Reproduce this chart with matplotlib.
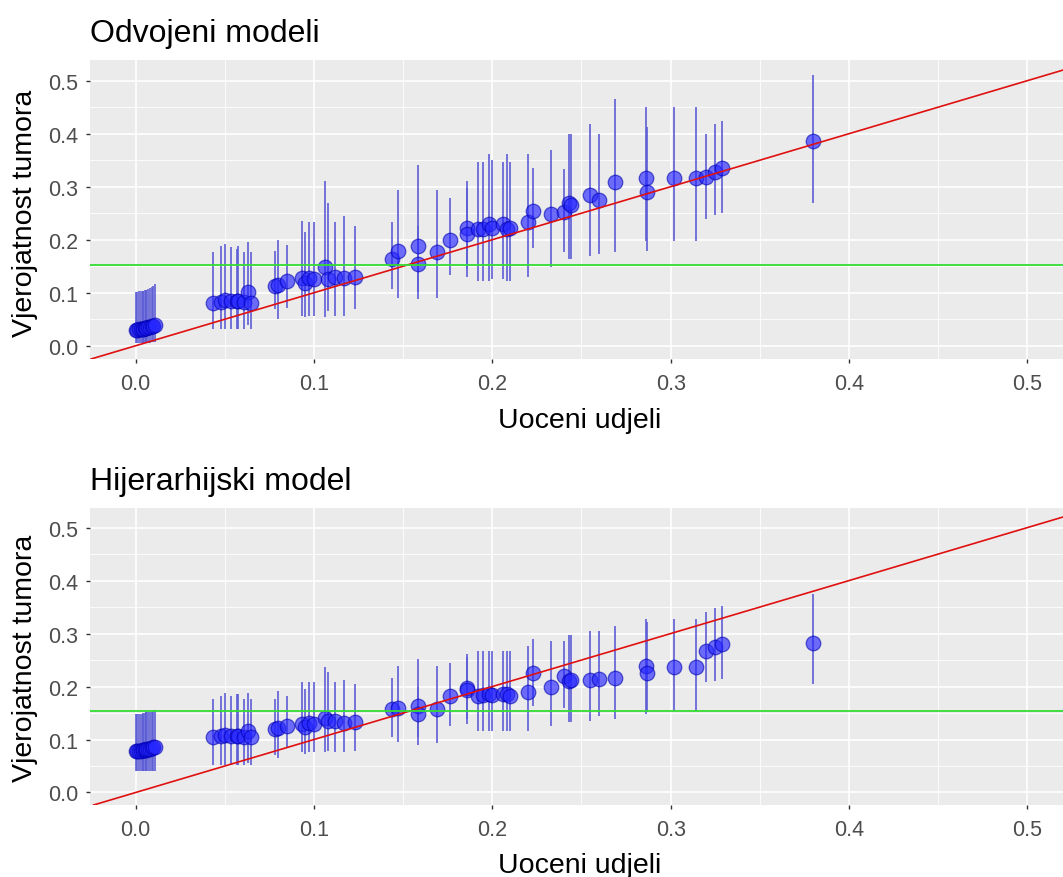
import matplotlib
matplotlib.use("Agg")
import matplotlib.pyplot as plt
import numpy as np

plt.rcParams['font.family'] = ['Liberation Sans', 'DejaVu Sans']

x_obs = [0.000, 0.001, 0.002, 0.003, 0.004, 0.004, 0.005, 0.006, 0.006, 0.007, 0.008, 0.009, 0.010, 0.011,
         0.0435, 0.0478, 0.050, 0.0532, 0.0566, 0.0575, 0.0607, 0.0631, 0.0644,
         0.078, 0.080, 0.085, 0.093, 0.095, 0.097, 0.100, 0.106, 0.108, 0.112, 0.117, 0.123,
         0.144, 0.147,
         0.1585, 0.1585, 0.169, 0.176, 0.186, 0.186, 0.192, 0.195, 0.198, 0.200, 0.206, 0.208, 0.210,
         0.220, 0.223, 0.233, 0.240, 0.243, 0.244, 0.255, 0.260, 0.269, 0.286, 0.287,
         0.302, 0.314, 0.320, 0.325, 0.329, 0.380]

# separate models: posterior mean and interval
sep_mean = [0.030, 0.030, 0.031, 0.031, 0.032, 0.032, 0.033, 0.033, 0.034, 0.035, 0.036, 0.037, 0.038, 0.040,
            0.080, 0.083, 0.086, 0.085, 0.084, 0.085, 0.082, 0.102, 0.080,
            0.113, 0.115, 0.122, 0.127, 0.118, 0.128, 0.125, 0.148, 0.125, 0.130, 0.128, 0.130,
            0.164, 0.178,
            0.189, 0.154, 0.177, 0.199, 0.222, 0.210, 0.220, 0.220, 0.230, 0.222, 0.230, 0.220, 0.223,
            0.233, 0.255, 0.248, 0.252, 0.270, 0.265, 0.284, 0.275, 0.308, 0.316, 0.290,
            0.316, 0.316, 0.318, 0.327, 0.336, 0.387]
sep_lo = [0.005, 0.005, 0.005, 0.005, 0.005, 0.005, 0.005, 0.006, 0.006, 0.006, 0.006, 0.007, 0.007, 0.008,
          0.031, 0.031, 0.031, 0.031, 0.031, 0.031, 0.031, 0.040, 0.031,
          0.069, 0.050, 0.072, 0.057, 0.054, 0.057, 0.057, 0.054, 0.066, 0.057, 0.057, 0.069,
          0.107, 0.091,
          0.088, 0.101, 0.090, 0.133, 0.145, 0.130, 0.122, 0.122, 0.122, 0.125, 0.126, 0.122, 0.122,
          0.129, 0.185, 0.148, 0.176, 0.164, 0.164, 0.170, 0.173, 0.176, 0.198, 0.179,
          0.198, 0.198, 0.239, 0.247, 0.250, 0.269]
sep_hi = [0.102, 0.102, 0.103, 0.103, 0.104, 0.104, 0.105, 0.105, 0.106, 0.107, 0.108, 0.110, 0.112, 0.116,
          0.176, 0.189, 0.192, 0.186, 0.183, 0.189, 0.176, 0.195, 0.176,
          0.179, 0.200, 0.190, 0.236, 0.214, 0.233, 0.233, 0.311, 0.270, 0.233, 0.245, 0.226,
          0.233, 0.293,
          0.340, 0.226, 0.293, 0.278, 0.298, 0.310, 0.347, 0.347, 0.362, 0.350, 0.347, 0.362, 0.347,
          0.362, 0.336, 0.370, 0.333, 0.399, 0.399, 0.418, 0.399, 0.465, 0.450, 0.412,
          0.450, 0.450, 0.399, 0.418, 0.424, 0.510]

# hierarchical model: posterior mean and interval
hier_mean = [0.078, 0.078, 0.079, 0.079, 0.080, 0.080, 0.081, 0.081, 0.082, 0.083, 0.083, 0.084, 0.085, 0.086,
             0.104, 0.106, 0.108, 0.107, 0.106, 0.107, 0.105, 0.116, 0.104,
             0.120, 0.122, 0.125, 0.130, 0.123, 0.132, 0.130, 0.141, 0.135, 0.135, 0.132, 0.133,
             0.158, 0.160,
             0.164, 0.148, 0.158, 0.183, 0.197, 0.193, 0.183, 0.184, 0.186, 0.184, 0.186, 0.186, 0.183,
             0.189, 0.225, 0.199, 0.219, 0.211, 0.213, 0.212, 0.215, 0.217, 0.239, 0.225,
             0.236, 0.236, 0.268, 0.274, 0.280, 0.283]
hier_lo = [0.040, 0.040, 0.040, 0.040, 0.040, 0.040, 0.040, 0.040, 0.040, 0.040, 0.040, 0.040, 0.040, 0.040,
           0.052, 0.052, 0.052, 0.052, 0.052, 0.052, 0.052, 0.055, 0.052,
           0.070, 0.066, 0.085, 0.076, 0.073, 0.076, 0.076, 0.076, 0.079, 0.076, 0.076, 0.079,
           0.104, 0.095,
           0.090, 0.105, 0.094, 0.126, 0.138, 0.130, 0.117, 0.117, 0.117, 0.117, 0.117, 0.117, 0.117,
           0.117, 0.164, 0.126, 0.160, 0.133, 0.133, 0.135, 0.145, 0.138, 0.148, 0.151,
           0.154, 0.154, 0.208, 0.211, 0.214, 0.205]
hier_hi = [0.148, 0.148, 0.148, 0.149, 0.149, 0.150, 0.150, 0.151, 0.151, 0.152, 0.152, 0.153, 0.154, 0.155,
           0.176, 0.183, 0.187, 0.183, 0.185, 0.185, 0.176, 0.187, 0.176,
           0.176, 0.192, 0.182, 0.209, 0.195, 0.209, 0.209, 0.236, 0.228, 0.209, 0.213, 0.205,
           0.217, 0.239,
           0.252, 0.200, 0.239, 0.245, 0.261, 0.255, 0.268, 0.268, 0.268, 0.268, 0.268, 0.268, 0.268,
           0.277, 0.290, 0.286, 0.286, 0.297, 0.297, 0.305, 0.305, 0.315, 0.327, 0.321,
           0.327, 0.327, 0.340, 0.349, 0.352, 0.375]

overall_rate = 0.153
x_ticks = [0.0, 0.1, 0.2, 0.3, 0.4, 0.5]
y_ticks = [0.0, 0.1, 0.2, 0.3, 0.4, 0.5]
tick_labels = ['0.0', '0.1', '0.2', '0.3', '0.4', '0.5']

W, H = 1063, 878
fig = plt.figure(figsize=(W / 100, H / 100), dpi=100)


def px_box(left, top, right, bottom):
    return [left / W, 1 - bottom / H, (right - left) / W, (bottom - top) / H]


def draw_panel(ax, mean, lo, hi, ylim):
    ax.set_facecolor('#EBEBEB')
    for s in ax.spines.values():
        s.set_visible(False)
    ax.set_xlim(-0.0256, 0.520)
    ax.set_ylim(*ylim)
    ax.set_xticks(x_ticks)
    ax.set_xticklabels(tick_labels)
    ax.set_yticks(y_ticks)
    ax.set_yticklabels(tick_labels)
    ax.set_xticks(np.arange(0.05, 0.55, 0.1), minor=True)
    ax.set_yticks(np.arange(0.05, 0.55, 0.1), minor=True)
    ax.grid(which='major', color='white', lw=1.2)
    ax.grid(which='minor', color='white', lw=0.6)
    ax.set_axisbelow(True)
    ax.tick_params(which='major', length=3.2, width=1, color='#333333',
                   labelsize=15.5, labelcolor='#4D4D4D', pad=5)
    ax.tick_params(axis='x', which='major', pad=7)
    ax.tick_params(which='minor', length=0)

    # intervals, then points
    ax.vlines(x_obs, lo, hi, color='#5c5cd6', alpha=0.85, lw=1.4, zorder=2)
    ax.scatter(x_obs, mean, s=110, facecolor=(0.15, 0.15, 1, 0.65),
               edgecolor=(0, 0, 0.7, 0.6), lw=0.9, zorder=3)

    # reference lines
    ax.axline((0, 0), slope=1, color='#e01010', lw=1.2, zorder=4)
    ax.axhline(overall_rate, color='#33dd33', lw=1.3, zorder=4)


ax1 = fig.add_axes(px_box(90, 61, 1063, 360))
draw_panel(ax1, sep_mean, sep_lo, sep_hi, (-0.025, 0.539))
ax2 = fig.add_axes(px_box(90, 509, 1063, 806))
draw_panel(ax2, hier_mean, hier_lo, hier_hi, (-0.0236, 0.537))

# titles and axis labels
fig.text(90 / W, 1 - 42 / H, 'Odvojeni modeli', fontsize=23, va='baseline', ha='left')
fig.text(90 / W, 1 - 490 / H, 'Hijerarhijski model', fontsize=23, va='baseline', ha='left')
for base in (428, 873):
    fig.text(580 / W, 1 - base / H, 'Uoceni udjeli', fontsize=20.5, va='baseline', ha='center')
for cy in (213, 658):
    fig.text(25 / W, 1 - cy / H, 'Vjerojatnost tumora', fontsize=20.5,
             rotation=90, va='center', ha='center')

fig.savefig('out.png', dpi=100, facecolor='white')
